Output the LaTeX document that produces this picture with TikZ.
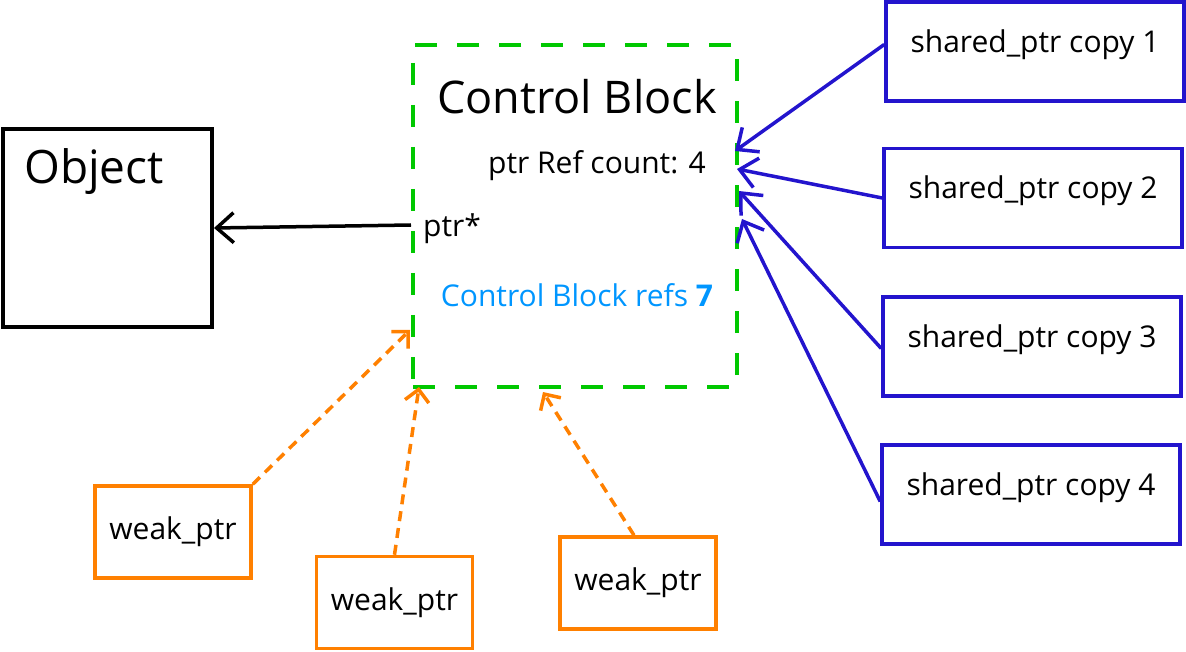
\documentclass[tikz,border=0pt]{standalone}
\usepackage{fontspec}
\setmainfont{Open Sans}
\usetikzlibrary{arrows.meta,positioning}
\definecolor{cbgreen}{RGB}{0,200,0}
\definecolor{spblue}{RGB}{35,20,205}
\definecolor{wporange}{RGB}{255,128,0}
\definecolor{refblue}{RGB}{0,150,255}
\tikzset{
  objbox/.style={draw,line width=4pt,minimum width=209pt,minimum height=198pt},
  ctrlbox/.style={draw=cbgreen,line width=4pt,dash pattern=on 22pt off 20pt,
    minimum width=324pt,minimum height=342pt},
  sharedbox/.style={draw=spblue,line width=3.5pt,minimum width=298pt,minimum height=99pt,
    text depth=21pt,font=\fontsize{30}{34}\selectfont},
  weakbox/.style={draw=wporange,line width=3.5pt,minimum width=156pt,minimum height=92pt,
    font=\fontsize{30}{34}\selectfont},
  txt/.style={inner sep=0pt,font=\fontsize{30}{34}\selectfont},
  ownarrow/.style={line width=3.5pt,-{Straight Barb[length=17pt,width=30pt]}},
  sharedarrow/.style={draw=spblue,line width=3.5pt,-{Straight Barb[length=17pt,width=30pt]}},
  weakarrow/.style={draw=wporange,line width=3.5pt,dash pattern=on 10pt off 7pt,
    -{Straight Barb[length=12pt,width=24pt]}}
}
\begin{document}
\begin{tikzpicture}[x=1pt,y=-1pt]
  \useasboundingbox (0,0) rectangle (1186,652);
  % object and control block
  \node[objbox] (object) at (107.5,228) {};
  \node[txt,font=\fontsize{46}{52}\selectfont] (objlabel) at (94,172) {Object};
  \node[ctrlbox] (cb) at (575,216) {};
  \node[txt,font=\fontsize{45}{50}\selectfont] (cbtitle) at (577,97) {Control Block};
  \node[txt] (refcount) at (597,166) {ptr Ref count: 4};
  \node[txt] (ptr) at (452,229) {ptr*};
  \node[txt,text=refblue] (cbrefs) at (577,295) {Control Block refs \textbf{7}};
  % shared_ptr copies
  \node[sharedbox] (sp1) at (1035,51.5) {shared\_ptr copy 1};
  \node[sharedbox] (sp2) at (1033,198) {shared\_ptr copy 2};
  \node[sharedbox] (sp3) at (1032,346.5) {shared\_ptr copy 3};
  \node[sharedbox] (sp4) at (1031,494.5) {shared\_ptr copy 4};
  % weak_ptrs
  \node[weakbox] (wp1) at (173,532) {weak\_ptr};
  \node[weakbox] (wp2) at (394.5,602.5) {weak\_ptr};
  \node[weakbox] (wp3) at (638,583) {weak\_ptr};
  % arrow ends on the control block
  \coordinate (in1) at ([xshift=-4pt,yshift=-108pt]cb.north east);
  \coordinate (in2) at ([xshift=-2pt,yshift=-126pt]cb.north east);
  \coordinate (in3) at ([yshift=-148pt]cb.north east);
  \coordinate (in4) at ([xshift=3pt,yshift=-176pt]cb.north east);
  \coordinate (win1) at ([xshift=-1pt,yshift=59pt]cb.south west);
  \coordinate (win2) at ([xshift=8pt,yshift=2pt]cb.south west);
  \coordinate (win3) at ([xshift=132pt,yshift=-3pt]cb.south west);
  \draw[ownarrow] ([yshift=4pt]cb.west |- ptr) -- (object.east);
  \draw[sharedarrow] ([yshift=7pt]sp1.west) -- (in1);
  \draw[sharedarrow] (sp2.west) -- (in2);
  \draw[sharedarrow] ([yshift=-2pt]sp3.west) -- (in3);
  \draw[sharedarrow] ([yshift=-7pt]sp4.west) -- (in4);
  \draw[weakarrow] (wp1.north east) -- (win1);
  \draw[weakarrow] (wp2.north) -- (win2);
  \draw[weakarrow] ([xshift=-4pt]wp3.north) -- (win3);
\end{tikzpicture}
\end{document}
